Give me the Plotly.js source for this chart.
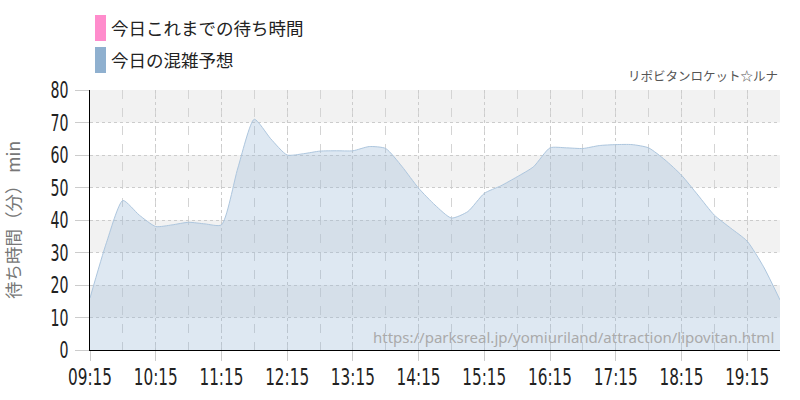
<!DOCTYPE html>
<html><head><meta charset="utf-8">
<script src="https://cdn.plot.ly/plotly-3.0.1.min.js"></script>
<style>html,body{margin:0;padding:0;background:#fff}#chart{width:800px;height:400px}</style>
</head><body><div id="chart"></div>
<script>
const times = ["09:15","09:30","09:45","10:00","10:15","10:30","10:45","11:00","11:15","11:30","11:45","12:00",
  "12:15","12:30","12:45","13:00","13:15","13:30","13:45","14:00","14:15","14:30","14:45","15:00",
  "15:15","15:30","15:45","16:00","16:15","16:30","16:45","17:00","17:15","17:30","17:45","18:00",
  "18:15","18:30","18:45","19:00","19:15","19:30","19:45"];
const forecast = [16,33,46,41.5,38,38.5,39.3,38.8,38.5,56,71,65,
  60,60.4,61.2,61.3,61.3,62.6,62,56.4,49.8,44.6,40.6,42.6,
  48.2,50.5,53.3,56.4,62.2,62.2,62,62.9,63.2,63.2,62.2,58.5,
  53.8,47.7,41.5,37.5,33.5,25.6,15.4];
const actualTimes = [];
const actual = [];
const seriesNames = ["今日これまでの待ち時間","今日の混雑予想"];
const seriesColors = ["#ff8ccc","#8fb0cf"];
const yTicks = [0,10,20,30,40,50,60,70,80];
const xTickLabels = ["09:15","10:15","11:15","12:15","13:15","14:15","15:15","16:15","17:15","18:15","19:15"];
const chartTitle = "リポビタンロケット☆ルナ";
const yTitle = "待ち時間（分） min";
const sourceUrl = "https://parksreal.jp/yomiuriland/attraction/lipovitan.html";

const day = "2024-01-01 ";
const toDate = t => day + t + ":00";

const traces = [
  {x: actualTimes.map(toDate), y: actual, type:"scatter", mode:"lines", name: seriesNames[0],
   line:{color:seriesColors[0]}, showlegend:false},
  {x: times.map(toDate), y: forecast, type:"scatter", mode:"lines", name: seriesNames[1],
   line:{color:"#adc6de", width:1, shape:"spline", smoothing:0.6},
   fill:"tozeroy", fillcolor:"rgba(150,182,213,0.31)", showlegend:false, hoverinfo:"skip"}
];

const PW = 690, PH = 260, T = 90, L = 90;
const shapes = [];
for (let i = 1; i < yTicks.length; i += 2) {
  shapes.push({type:"rect", xref:"paper", yref:"y", x0:0, x1:1, y0:yTicks[i], y1:yTicks[i+1],
    fillcolor:"#f2f2f2", line:{width:0}, layer:"below"});
}
const jp = "'Noto Sans CJK JP', 'Noto Sans', sans-serif";
// legend
seriesNames.forEach((n, i) => {
  shapes.push({type:"rect", xref:"paper", yref:"paper", x0:(95-L)/PW, x1:(106-L)/PW,
    y0: 1 + (T - (41 + i*32))/PH, y1: 1 + (T - (15 + i*32))/PH,
    fillcolor: seriesColors[i], line:{width:0}});
});
const annotations = seriesNames.map((n, i) => ({
  text: n, xref:"paper", yref:"paper", x: (109-L)/PW, xanchor:"left",
  y: 1 + (T - (28 + i*32))/PH, yanchor:"middle", showarrow:false,
  font:{family: jp, size:17.5, color:"#222"}
}));
annotations.push({text: chartTitle, xref:"paper", yref:"paper", x:1, xanchor:"right",
  y: 1 + (T-75)/PH, yanchor:"middle", showarrow:false, font:{family:jp, size:12.5, color:"#555"}});
annotations.push({text: sourceUrl, xref:"paper", yref:"paper", x:(776-L)/PW, xanchor:"right",
  y: (350-337)/PH, yanchor:"middle", showarrow:false, font:{family:"'Noto Sans', sans-serif", size:15, color:"#aaa"}});

const tickFont = {family:"'DejaVu Sans', sans-serif", size:23, color:"#222"};

const layout = {
  width:800, height:400,
  margin:{l:90, r:20, t:90, b:50},
  paper_bgcolor:"#fff", plot_bgcolor:"#fff",
  showlegend:false,
  xaxis:{type:"date", range:[toDate(times[0]), toDate(times[times.length-1])],
    tickmode:"array", tickvals: xTickLabels.map(toDate), ticktext: xTickLabels,
    tickfont: tickFont, tickangle:0, ticklabeloverflow:"allow",
    ticks:"outside", ticklen:10, tickcolor:"#ccc", ticklabelstandoff:-4,
    showgrid:true, gridcolor:"#cccccc", griddash:"dot", gridwidth:1,
    minor:{dtick:1800000, tick0: toDate("09:15"), showgrid:true, gridcolor:"#d4d4d4", griddash:"dash", ticks:""},
    showline:true, linecolor:"#000", linewidth:1, zeroline:false, fixedrange:true},
  yaxis:{range:[0,80], tickvals:yTicks, tickfont: tickFont, ticks:"outside", ticklen:14, tickcolor:"#ccc",
    showgrid:true, gridcolor:"#cccccc", griddash:"dot", gridwidth:1,
    showline:true, linecolor:"#000", linewidth:1, zeroline:false, ticklabelstandoff:2,
    title:{text: yTitle, font:{family:jp, size:17.5, color:"#777"}, standoff:14}},
  shapes, annotations
};
Plotly.newPlot("chart", traces, layout, {displayModeBar:false, staticPlot:true}).then(gd => {
  // condense tick label glyphs (narrow font look)
  const squeeze = (sel, sample, target) => {
    const nodes = gd.querySelectorAll(sel);
    let ref = null;
    nodes.forEach(n => { if (n.textContent === sample) ref = n; });
    if (!ref) return;
    const k = target / ref.getComputedTextLength();
    nodes.forEach(n => {
      const w = n.getComputedTextLength();
      n.setAttribute("textLength", (w * k).toFixed(2));
      n.setAttribute("lengthAdjust", "spacingAndGlyphs");
    });
  };
  squeeze(".xtick text", "09:15", 44);
  squeeze(".ytick text", "80", 18);
});
</script></body></html>
